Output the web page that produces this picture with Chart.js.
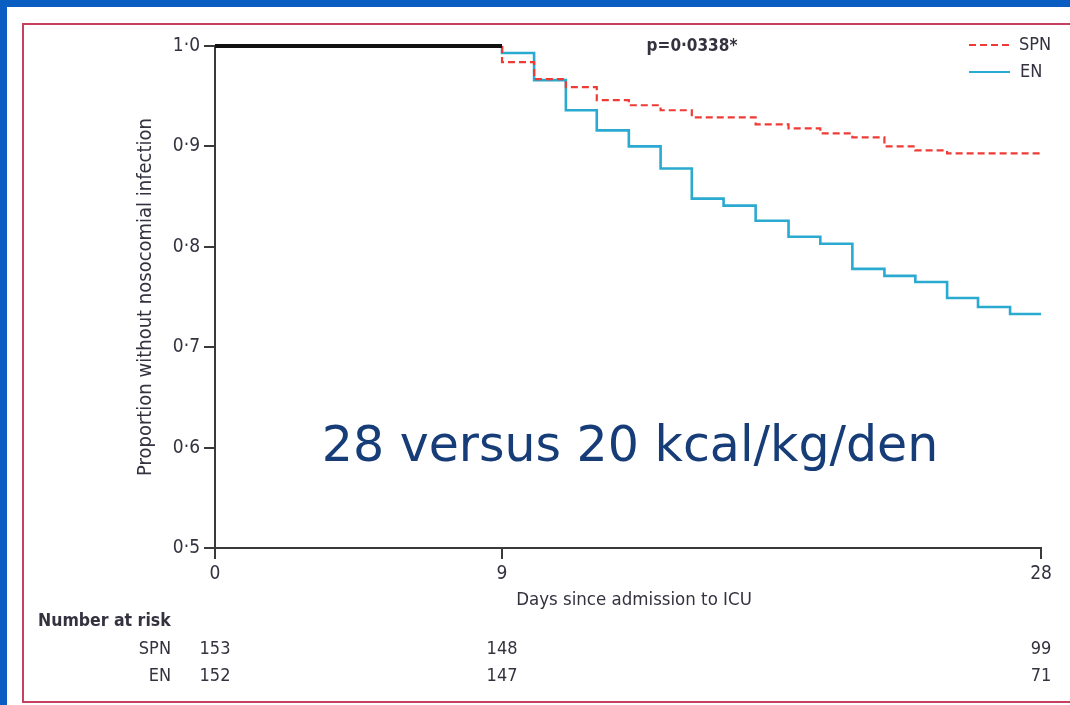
<!DOCTYPE html>
<html>
<head>
<meta charset="utf-8">
<script src="https://cdn.jsdelivr.net/npm/chart.js@4.4.1/dist/chart.umd.min.js"></script>
<style>
  html, body { margin: 0; padding: 0; }
  body { width: 1070px; height: 705px; background: #0A5EC2; position: relative; overflow: hidden; }
  #panel { position: absolute; left: 7px; top: 7px; right: 0; bottom: 0; background: #ffffff; }
  #frame { position: absolute; left: 22px; top: 23px; width: 1100px; height: 680px; box-sizing: border-box; border: 2px solid #C8405F; }
  #chart { position: absolute; left: 0; top: 0; z-index: 2; }
</style>
</head>
<body>
<div id="panel"></div>
<div id="frame"></div>
<canvas id="chart" width="1070" height="705"></canvas>
<script>
// ---------------- data ----------------
const seriesNames = ['SPN', 'EN'];
const commonDays = [0, 9];
const commonSurvival = [1.0, 1.0];
const eventDays = [9, 9, 10.13, 11.25, 12.34, 13.47, 14.59, 15.69, 16.81, 17.94, 19.10, 20.22, 21.35, 22.48, 23.57, 24.69, 25.78, 26.91, 28];
const spnSurvival = [1.0, 0.984, 0.967, 0.959, 0.946, 0.941, 0.936, 0.929, 0.929, 0.922, 0.918, 0.913, 0.909, 0.900, 0.896, 0.893, 0.893, 0.893, 0.893];
const enSurvival  = [1.0, 0.993, 0.966, 0.936, 0.916, 0.900, 0.878, 0.848, 0.841, 0.826, 0.810, 0.803, 0.778, 0.771, 0.765, 0.749, 0.740, 0.733, 0.733];
const xTickValues = [0, 9, 28];
const yTickValues = [0.5, 0.6, 0.7, 0.8, 0.9, 1.0];
const yTickLabels = ['0·5', '0·6', '0·7', '0·8', '0·9', '1·0'];
const riskDays = [0, 9, 28];
const spnAtRisk = [153, 148, 99];
const enAtRisk = [152, 147, 71];
const xTitle = 'Days since admission to ICU';
const yTitle = 'Proportion without nosocomial infection';
const pValueText = 'p=0·0338*';
const riskHeader = 'Number at risk';
const overlayText = '28 versus 20 kcal/kg/den';

// ---------------- layout constants ----------------
const BREAK_DAY = 9;          // the axis is drawn broken at day 9
const BREAK_FRACTION = 0.3475; // share of the axis length before day 9
const NARROW = '"Liberation Sans Narrow", "DejaVu Sans Condensed", "Roboto", sans-serif';
const TEXT = '#34323f';
const AXIS = '#3a3a3a';
const RED = '#EE3B36';
const CYAN = '#2AAAD0';

// piecewise-linear scale (0–9 and 9–28 segments with different spacing)
class BrokenLinearScale extends Chart.LinearScale {
  _toDecimal(v) {
    const a = this.min, b = this.max;
    if (v <= BREAK_DAY) return (v - a) / (BREAK_DAY - a) * BREAK_FRACTION;
    return BREAK_FRACTION + (v - BREAK_DAY) / (b - BREAK_DAY) * (1 - BREAK_FRACTION);
  }
  getPixelForValue(value) {
    if (value === null || value === undefined || isNaN(value)) return NaN;
    return this.getPixelForDecimal(this._toDecimal(value));
  }
  getValueForPixel(pixel) {
    const d = this.getDecimalForPixel(pixel);
    const a = this.min, b = this.max;
    if (d <= BREAK_FRACTION) return a + d / BREAK_FRACTION * (BREAK_DAY - a);
    return BREAK_DAY + (d - BREAK_FRACTION) / (1 - BREAK_FRACTION) * (b - BREAK_DAY);
  }
}
BrokenLinearScale.id = 'brokenLinear';
BrokenLinearScale.defaults = Chart.LinearScale.defaults;
Chart.register(BrokenLinearScale);

const toPoints = (xs, ys) => xs.map((d, i) => ({ x: d, y: ys[i] }));

const annotations = {
  id: 'annotations',
  afterDraw(chart) {
    const { ctx } = chart;
    const x = chart.scales.x, y = chart.scales.y;
    ctx.save();
    ctx.fillStyle = TEXT;

    // y axis title
    ctx.save();
    ctx.translate(146, (y.top + y.bottom) / 2);
    ctx.rotate(-Math.PI / 2);
    ctx.font = '20px ' + NARROW;
    ctx.textAlign = 'center';
    ctx.textBaseline = 'middle';
    ctx.fillText(yTitle, 0, 0);
    ctx.restore();

    // x axis title
    ctx.font = '18.5px ' + NARROW;
    ctx.textAlign = 'center';
    ctx.textBaseline = 'middle';
    ctx.fillText(xTitle, 634, 600);

    // p value
    ctx.font = '600 17px ' + NARROW;
    ctx.fillText(pValueText, 692, 47);

    // legend
    const dsSPN = chart.data.datasets[1], dsEN = chart.data.datasets[2];
    ctx.lineWidth = 2;
    ctx.strokeStyle = dsSPN.borderColor;
    ctx.setLineDash(dsSPN.borderDash);
    ctx.beginPath(); ctx.moveTo(969, 45); ctx.lineTo(1011, 45); ctx.stroke();
    ctx.strokeStyle = dsEN.borderColor;
    ctx.setLineDash([]);
    ctx.beginPath(); ctx.moveTo(969, 72); ctx.lineTo(1010, 72); ctx.stroke();
    ctx.font = '18px ' + NARROW;
    ctx.textAlign = 'left';
    ctx.fillText(seriesNames[0], 1019, 45);
    ctx.fillText(seriesNames[1], 1020, 72);

    // number at risk table
    ctx.font = 'bold 17.5px ' + NARROW;
    ctx.textAlign = 'left';
    ctx.fillText(riskHeader, 38, 621);
    ctx.font = '18px ' + NARROW;
    ctx.textAlign = 'right';
    ctx.fillText(seriesNames[0], 171, 649);
    ctx.fillText(seriesNames[1], 171, 676);
    ctx.textAlign = 'center';
    riskDays.forEach((d, i) => {
      const px = x.getPixelForValue(d);
      ctx.fillText(String(spnAtRisk[i]), px, 649);
      ctx.fillText(String(enAtRisk[i]), px, 676);
    });

    // overlay slide text
    ctx.font = '49px "DejaVu Sans", Verdana, sans-serif';
    ctx.fillStyle = '#173D78';
    ctx.textAlign = 'center';
    ctx.textBaseline = 'alphabetic';
    ctx.fillText(overlayText, 630, 461);
    ctx.restore();
  }
};

new Chart(document.getElementById('chart'), {
  type: 'line',
  data: {
    datasets: [
      { label: 'both', data: toPoints(commonDays, commonSurvival), borderColor: '#111111', borderWidth: 4, stepped: true },
      { label: seriesNames[0], data: toPoints(eventDays, spnSurvival), borderColor: RED, borderWidth: 2.2, borderDash: [7, 4], stepped: true },
      { label: seriesNames[1], data: toPoints(eventDays, enSurvival), borderColor: CYAN, borderWidth: 2.6, stepped: true }
    ]
  },
  options: {
    responsive: false,
    animation: false,
    devicePixelRatio: 1,
    layout: { padding: { left: 0, top: 46, right: 29, bottom: 0 } },
    datasets: { line: { pointRadius: 0, fill: false, clip: false, tension: 0 } },
    plugins: { legend: { display: false }, tooltip: { enabled: false }, title: { display: false } },
    scales: {
      x: {
        type: 'brokenLinear',
        min: 0, max: 28,
        afterBuildTicks: (s) => { s.ticks = xTickValues.map(v => ({ value: v })); },
        afterFit: (s) => { s.height = 705 - 548; },
        grid: { display: true, drawOnChartArea: false, drawTicks: true, tickLength: 11, color: AXIS, lineWidth: 2 },
        border: { display: true, color: AXIS, width: 2 },
        ticks: { autoSkip: false, maxRotation: 0, padding: 4, color: TEXT, font: { family: NARROW, size: 19 }, callback: (v) => String(v) }
      },
      y: {
        type: 'linear',
        min: 0.5, max: 1.0,
        afterBuildTicks: (s) => { s.ticks = yTickValues.map(v => ({ value: v })); },
        afterFit: (s) => { s.width = 215; },
        grid: { display: true, drawOnChartArea: false, drawTicks: true, tickLength: 11, color: AXIS, lineWidth: 2 },
        border: { display: true, color: AXIS, width: 2 },
        ticks: { autoSkip: false, padding: 4, color: TEXT, font: { family: NARROW, size: 19 }, callback: (v, i) => yTickLabels[i] }
      }
    }
  },
  plugins: [annotations]
});
</script>
</body>
</html>
